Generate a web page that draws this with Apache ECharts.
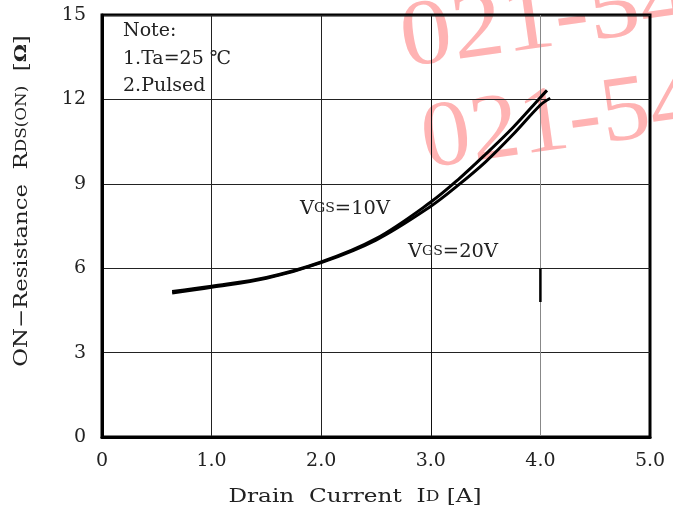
<!DOCTYPE html>
<html><head><meta charset="utf-8">
<script src="https://cdn.jsdelivr.net/npm/echarts@6/dist/echarts.min.js"></script>
<style>html,body{margin:0;padding:0;background:#fff}#c{width:673px;height:515px}</style>
</head><body><div id="c"></div>
<script>
// Data
const idVgs10  = [0.64, 1.0, 1.5, 2.0, 2.5, 3.0, 3.25, 3.5, 3.75, 4.0, 4.06];
const rdsVgs10 = [5.17, 5.36, 5.67, 6.22, 7.05, 8.35, 9.15, 10.05, 11.0, 12.07, 12.32];
const idVgs20  = [0.64, 1.0, 1.5, 2.0, 2.5, 3.0, 3.25, 3.5, 3.75, 4.0, 4.09];
const rdsVgs20 = [5.12, 5.32, 5.64, 6.2, 7.0, 8.2, 8.95, 9.78, 10.75, 11.8, 12.04];
const markX = [4.0, 4.0];
const markY = [6.0, 4.8];
const xTickLabels = ['0', '1.0', '2.0', '3.0', '4.0', '5.0'];
const yTickLabels = ['0', '3', '6', '9', '12', '15'];
const noteLines = ['Note:', '1.Ta=25 \u2103', '2.Pulsed'];

const FONT = '"DejaVu Serif", "Liberation Serif", serif';
const chart = echarts.init(document.getElementById('c'), null, {renderer: 'canvas'});
const pair = (xs, ys) => xs.map((x, i) => [x, ys[i]]);
const ROT = 8 * Math.PI / 180;

const option = {
  backgroundColor: '#fff',
  animation: false,
  grid: {left: 102, right: 23, top: 15, bottom: 78, show: true, borderColor: '#000', borderWidth: 3, z: 1},
  xAxis: {
    type: 'value', min: 0, max: 5, interval: 1, z: 1,
    axisLine: {show: true, lineStyle: {color: '#000', width: 3}},
    axisTick: {show: false},
    axisLabel: {formatter: v => xTickLabels[Math.round(v)], fontFamily: FONT, fontSize: 19, color: '#222', margin: 15},
    splitLine: {show: true, lineStyle: {color: ['#000', '#222', '#222', '#111', '#888', '#000'], width: 1}}
  },
  yAxis: {
    type: 'value', min: 0, max: 15, interval: 3, z: 1,
    axisLine: {show: true, lineStyle: {color: '#000', width: 3}},
    axisTick: {show: false},
    axisLabel: {formatter: v => yTickLabels[Math.round(v / 3)], fontFamily: FONT, fontSize: 19, color: '#222', margin: 16},
    splitLine: {show: true, lineStyle: {color: '#222', width: 1}}
  },
  series: [
    {name: 'VGS=10V', type: 'line', data: pair(idVgs10, rdsVgs10), smooth: 0.35, showSymbol: false, z: 3,
     lineStyle: {color: '#000', width: 3}},
    {name: 'VGS=20V', type: 'line', data: pair(idVgs20, rdsVgs20), smooth: 0.35, showSymbol: false, z: 3,
     lineStyle: {color: '#000', width: 3}},
    {name: 'mark', type: 'line', data: pair(markX, markY), showSymbol: false, z: 3,
     lineStyle: {color: '#000', width: 2.5}}
  ],
  graphic: [
    {type: 'text', x: 401, y: 42, rotation: ROT, scaleX: 1.1, z: -1, silent: true,
     style: {text: '021-54', font: '94px "Liberation Serif", serif', fill: '#ffb3b3', textAlign: 'left', textVerticalAlign: 'middle'}},
    {type: 'text', x: 422, y: 143, rotation: ROT, scaleX: 1.05, z: -1, silent: true,
     style: {text: '021-54', font: '94px "Liberation Serif", serif', fill: '#ffb3b3', textAlign: 'left', textVerticalAlign: 'middle'}},
    {type: 'text', x: 123, y: 31, z: 10, style: {text: noteLines[0], font: '19px ' + FONT, fill: '#222', textVerticalAlign: 'middle'}},
    {type: 'text', x: 123, y: 59, z: 10, style: {text: noteLines[1], font: '19px ' + FONT, fill: '#222', textVerticalAlign: 'middle'}},
    {type: 'text', x: 123, y: 86, z: 10, style: {text: noteLines[2], font: '19px ' + FONT, fill: '#222', textVerticalAlign: 'middle'}},
    {type: 'text', x: 300, y: 209, scaleX: 1.08, z: 10, style: {
      text: '{b|V}{s|GS}{b|=10V}', textVerticalAlign: 'middle',
      rich: {b: {font: '18px ' + FONT, fill: '#222'}, s: {font: '13px ' + FONT, fill: '#222'}}}},
    {type: 'text', x: 408, y: 252, scaleX: 1.08, z: 10, style: {
      text: '{b|V}{s|GS}{b|=20V}', textVerticalAlign: 'middle',
      rich: {b: {font: '18px ' + FONT, fill: '#222'}, s: {font: '13px ' + FONT, fill: '#222'}}}},
    {type: 'text', x: 355, y: 497, scaleX: 1.22, z: 10, style: {
      text: '{b|Drain  Current  I}{s|D}{b| [A]}', textAlign: 'center', textVerticalAlign: 'middle',
      rich: {b: {font: '19px ' + FONT, fill: '#222'}, s: {font: '14px ' + FONT, fill: '#222'}}}},
    {type: 'text', x: 22, y: 201, rotation: Math.PI / 2, scaleX: 1.2, z: 10, style: {
      text: '{b|ON\u2212Resistance  R}{s|DS(ON)}{b|  [}{o|\u03A9}{b|]}', textAlign: 'center', textVerticalAlign: 'middle',
      rich: {b: {font: '19px ' + FONT, fill: '#222'}, s: {font: '14px ' + FONT, fill: '#222'}, o: {font: 'bold 17px ' + FONT, fill: '#222'}}}}
  ]
};
chart.setOption(option);
</script>
</body></html>
